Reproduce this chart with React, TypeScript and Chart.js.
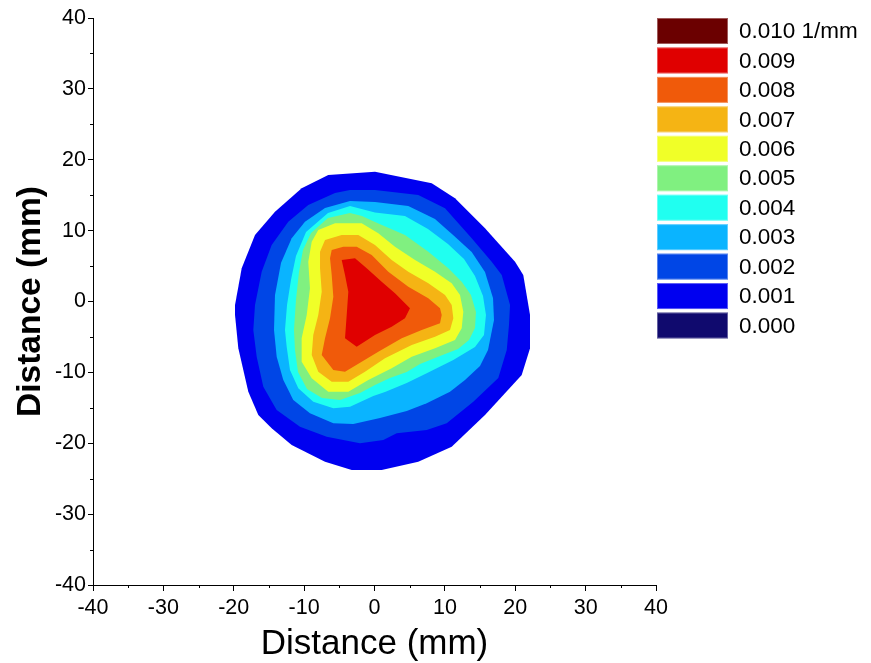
import React, { useEffect, useRef } from 'react';
import { Chart, registerables } from 'chart.js';

Chart.register(...registerables);

// Legend levels (top to bottom)
const levelLabels = ['0.010 1/mm', '0.009', '0.008', '0.007', '0.006', '0.005', '0.004', '0.003', '0.002', '0.001', '0.000'];
const levelColors = ['#6b0000', '#e00000', '#f05a0a', '#f5b414', '#f0ff28', '#80f080', '#20fff0', '#0ab4ff', '#0046e6', '#0000f0', '#100a6e'];

// Axis ticks
const majorTicks = [-40, -30, -20, -10, 0, 10, 20, 30, 40];
const minorTicks = [-35, -25, -15, -5, 5, 15, 25, 35];

// Contour boundaries (mm), outer level 0.001 to inner level 0.009
const contour001 = [[0.07,18.31],[8.13,16.68],[11.44,14.56],[15.70,10.33],[19.97,5.62],[21.14,3.74],[22.10,-1.90],[22.10,-6.60],[20.92,-10.37],[15.70,-16.01],[10.97,-20.49],[6.22,-22.60],[1.02,-23.77],[-3.24,-23.77],[-7.03,-22.60],[-11.77,-20.25],[-14.61,-17.89],[-16.51,-16.01],[-17.93,-12.73],[-19.35,-6.60],[-19.82,-1.90],[-19.82,-0.49],[-18.87,4.68],[-16.98,9.38],[-14.14,12.67],[-10.35,15.97],[-6.57,17.85]];
const contour002 = [[0.07,15.73],[6.22,15.03],[10.02,13.15],[13.81,8.92],[16.65,5.62],[18.08,3.74],[19.26,-0.49],[19.11,-3.32],[18.79,-6.84],[17.59,-10.79],[14.04,-14.14],[10.26,-17.18],[7.42,-18.13],[3.15,-18.60],[1.25,-19.54],[-2.06,-20.01],[-6.79,-19.08],[-10.59,-17.66],[-13.90,-15.31],[-15.80,-12.02],[-16.74,-7.79],[-17.22,-4.02],[-16.98,-0.49],[-16.03,4.20],[-14.61,7.97],[-12.25,11.26],[-9.41,13.62],[-5.61,15.31],[-3.48,15.73]];
const contour003 = [[0.07,14.04],[4.80,13.47],[8.60,11.64],[11.44,9.14],[13.81,6.98],[15.70,4.16],[16.84,0.49],[16.98,-2.61],[16.13,-6.84],[14.99,-9.10],[12.86,-11.08],[10.73,-12.73],[7.42,-14.36],[4.58,-15.45],[0.78,-16.44],[-3.01,-17.28],[-5.85,-17.18],[-9.17,-15.77],[-11.54,-13.90],[-12.96,-11.08],[-13.90,-7.79],[-14.28,-4.02],[-14.14,0.92],[-13.29,5.43],[-11.77,8.92],[-9.88,11.26],[-7.03,13.19],[-3.48,14.18]];
const contour004 = [[0.07,12.56],[4.33,12.06],[7.60,10.23],[10.44,8.11],[12.72,6.00],[14.28,3.60],[15.42,0.78],[15.84,-1.90],[15.56,-4.73],[14.28,-6.42],[11.20,-8.25],[7.42,-10.13],[4.58,-11.50],[1.49,-12.77],[-0.17,-13.33],[-3.48,-14.84],[-5.85,-15.07],[-8.70,-14.14],[-10.83,-12.25],[-12.01,-9.66],[-12.48,-6.38],[-12.72,-4.02],[-12.43,-0.49],[-11.87,3.03],[-11.16,6.42],[-9.73,9.81],[-6.61,12.49],[-3.48,13.47]];
const contour005 = [[0.07,11.22],[4.33,9.38],[7.65,7.03],[10.49,4.68],[12.39,2.79],[13.71,0.92],[14.42,-1.48],[14.28,-3.74],[13.43,-5.43],[11.87,-6.70],[9.31,-7.69],[6.47,-8.82],[4.58,-9.95],[2.20,-10.79],[0.07,-11.78],[-2.06,-12.91],[-4.90,-13.90],[-7.46,-13.62],[-9.59,-12.35],[-10.87,-9.95],[-11.30,-6.84],[-11.44,-4.02],[-11.16,0.21],[-10.73,4.16],[-10.16,7.27],[-9.02,9.66],[-6.61,11.78],[-3.48,12.49],[-1.78,12.06]];
const contour006 = [[-7.99,10.09],[-5.61,11.03],[-1.82,11.03],[0.54,9.62],[2.91,7.73],[5.76,5.86],[8.60,4.20],[10.97,2.57],[12.15,0.92],[12.62,-1.44],[12.39,-3.78],[11.44,-5.43],[8.60,-6.60],[5.29,-7.79],[2.44,-9.43],[-0.88,-11.08],[-3.72,-12.73],[-6.57,-12.73],[-8.92,-10.84],[-10.35,-8.49],[-10.35,-5.19],[-9.63,-1.90],[-9.17,1.86],[-9.41,5.62],[-8.92,8.44]];
const contour007 = [[-7.03,8.68],[-4.66,9.38],[-2.30,9.38],[0.07,7.97],[2.44,5.86],[4.80,4.20],[7.65,2.57],[10.02,0.92],[10.97,-0.49],[11.20,-2.37],[10.73,-4.02],[8.60,-4.99],[5.29,-6.14],[1.49,-8.01],[-1.35,-9.90],[-3.72,-11.32],[-6.08,-11.32],[-7.99,-9.90],[-8.92,-7.55],[-8.70,-4.73],[-7.99,-1.90],[-7.50,1.38],[-7.74,4.68],[-7.74,7.03]];
const contour008 = [[-6.08,7.27],[-4.43,7.73],[-2.53,7.73],[-0.40,6.56],[1.96,4.20],[4.80,2.09],[7.64,0.45],[9.31,-0.96],[9.55,-1.90],[9.31,-3.08],[6.71,-4.02],[3.87,-5.19],[0.54,-7.08],[-1.82,-8.49],[-4.19,-9.90],[-5.85,-9.66],[-7.50,-7.55],[-7.03,-5.19],[-6.32,-2.37],[-5.85,0.68],[-6.08,3.74],[-6.32,6.10]];
const contour009 = [[-4.66,5.86],[-2.77,6.10],[-1.11,4.68],[1.02,2.79],[2.91,1.16],[5.04,-0.96],[4.33,-2.37],[2.44,-3.56],[0.07,-4.73],[-2.53,-6.38],[-4.19,-5.19],[-3.95,-1.90],[-3.72,1.38],[-4.19,3.74]];

const contours = [contour001, contour002, contour003, contour004, contour005, contour006, contour007, contour008, contour009];
const contourLevels = ['0.001', '0.002', '0.003', '0.004', '0.005', '0.006', '0.007', '0.008', '0.009'];

const FONT = "'Liberation Sans', Arial, sans-serif";

const contourFillPlugin = {
  id: 'contourFill',
  beforeDatasetsDraw(chart: any) {
    const { ctx, chartArea } = chart;
    ctx.save();
    ctx.beginPath();
    ctx.rect(chartArea.left, chartArea.top, chartArea.right - chartArea.left, chartArea.bottom - chartArea.top);
    ctx.clip();
    chart.data.datasets.forEach((ds: any, i: number) => {
      const meta = chart.getDatasetMeta(i);
      const pts = meta.data;
      if (!pts.length) return;
      ctx.beginPath();
      ctx.moveTo(pts[0].x, pts[0].y);
      for (let k = 1; k < pts.length; k++) ctx.lineTo(pts[k].x, pts[k].y);
      ctx.closePath();
      ctx.fillStyle = ds.backgroundColor;
      ctx.fill();
    });
    ctx.restore();
  },
};

const extrasPlugin = {
  id: 'extras',
  afterDraw(chart: any) {
    const { ctx, chartArea, scales } = chart;
    ctx.save();
    // minor ticks
    ctx.strokeStyle = '#000';
    ctx.lineWidth = 1;
    minorTicks.forEach((v) => {
      const x = Math.round(scales.x.getPixelForValue(v)) + 0.5;
      ctx.beginPath();
      ctx.moveTo(x, chartArea.bottom);
      ctx.lineTo(x, chartArea.bottom + 3);
      ctx.stroke();
      const y = Math.round(scales.y.getPixelForValue(v)) + 0.5;
      ctx.beginPath();
      ctx.moveTo(chartArea.left, y);
      ctx.lineTo(chartArea.left - 3, y);
      ctx.stroke();
    });
    // legend
    const boxLeft = chartArea.right + 1;
    const boxW = 71;
    const boxH = 26;
    const rowH = 29.45;
    ctx.font = `22.5px ${FONT}`;
    ctx.textBaseline = 'middle';
    ctx.textAlign = 'left';
    levelLabels.forEach((lab, i) => {
      const top = chartArea.top + i * rowH;
      ctx.fillStyle = levelColors[i];
      ctx.fillRect(boxLeft, top, boxW, boxH);
      ctx.strokeStyle = 'rgba(255,255,255,0.35)';
      ctx.strokeRect(boxLeft + 0.5, top + 0.5, boxW - 1, boxH - 1);
      ctx.fillStyle = '#000';
      ctx.fillText(lab, boxLeft + boxW + 11, top + boxH / 2 + 1);
    });
    ctx.restore();
  },
};

export default function App() {
  const ref = useRef<HTMLCanvasElement | null>(null);
  useEffect(() => {
    if (!ref.current) return;
    const datasets = contours.map((c, i) => ({
      label: contourLevels[i],
      data: c.map(([x, y]) => ({ x, y })),
      backgroundColor: levelColors[9 - i],
      borderColor: levelColors[9 - i],
      pointRadius: 0,
      pointHoverRadius: 0,
      showLine: false,
    }));
    const tickFont = { family: FONT, size: 21.5 };
    const chart = new Chart(ref.current, {
      type: 'scatter',
      data: { datasets },
      options: {
        animation: false,
        responsive: false,
        devicePixelRatio: 1,
        events: [],
        layout: { padding: { left: 0, right: 215, top: 18, bottom: 0 } },
        plugins: { legend: { display: false }, tooltip: { enabled: false } },
        scales: {
          x: {
            type: 'linear',
            min: -40,
            max: 40,
            afterBuildTicks: (s: any) => { s.ticks = majorTicks.map((v) => ({ value: v })); },
            afterFit: (s: any) => { s.height = 78; },
            ticks: { font: tickFont, color: '#000', padding: 4, maxRotation: 0, autoSkip: false },
            grid: { display: true, drawOnChartArea: false, drawTicks: true, tickLength: 6, color: '#000', tickColor: '#000' },
            border: { display: true, color: '#000', width: 1 },
            title: { display: true, text: 'Distance (mm)', color: '#000', font: { family: FONT, size: 35 }, padding: { top: 0, bottom: -2 } },
          },
          y: {
            type: 'linear',
            min: -40,
            max: 40,
            afterBuildTicks: (s: any) => { s.ticks = majorTicks.map((v) => ({ value: v })); },
            afterFit: (s: any) => { s.width = 93; },
            ticks: { font: tickFont, color: '#000', padding: 2, autoSkip: false },
            grid: { display: true, drawOnChartArea: false, drawTicks: true, tickLength: 5, color: '#000', tickColor: '#000' },
            border: { display: true, color: '#000', width: 1 },
            title: { display: true, text: 'Distance (mm)', color: '#000', font: { family: FONT, size: 33.5, weight: 'bold' }, padding: { top: 11, bottom: 0 } },
          },
        },
      },
      plugins: [contourFillPlugin, extrasPlugin],
    } as any);
    return () => chart.destroy();
  }, []);
  return (
    <div style={{ position: 'fixed', left: 0, top: 0, width: 871, height: 663, background: '#fff' }}>
      <canvas ref={ref} width={871} height={663} style={{ display: 'block', width: 871, height: 663 }} />
    </div>
  );
}
